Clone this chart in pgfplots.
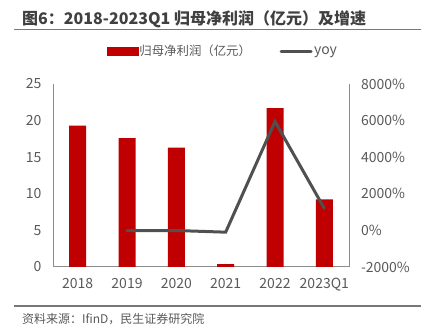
\documentclass[border=0pt]{standalone}
\usepackage{pgfplots}
\pgfplotsset{compat=1.18}
\usepackage{fontspec}
\setmainfont{Noto Sans CJK SC}
\definecolor{barred}{HTML}{C00000}
\definecolor{linegray}{HTML}{505050}
\definecolor{txtgray}{HTML}{595959}
\definecolor{axgray}{HTML}{8C8C8C}
\definecolor{titlegray}{HTML}{404040}
\begin{document}
\begin{tikzpicture}[x=1pt,y=1pt]
\useasboundingbox (0,0) rectangle (433,336);
\node[anchor=west,inner sep=0,font=\fontsize{16}{18}\selectfont\bfseries,text=titlegray] at (22,317) {图6：2018-2023Q1 归母净利润（亿元）及增速};
\draw[color=axgray!85!black,line width=1.5pt] (14,306.7) -- (421,306.7);
\draw[color=axgray!85!black,line width=1.5pt] (14,30) -- (421,30);
\node[anchor=west,inner sep=0,font=\fontsize{12}{14}\selectfont,text=txtgray] at (22,17) {资料来源：IfinD，民生证券研究院};
\begin{axis}[
  at={(53pt,69pt)}, anchor=south west,
  width=296pt, height=183pt, scale only axis,
  xmin=-0.5, xmax=5.5, ymin=0, ymax=25,
  xtick={0,1,2,3,4,5},
  xticklabels={2018,2019,2020,2021,2022,2023Q1},
  ytick={0,5,10,15,20,25},
  axis x line=bottom, axis y line=left,
  axis line style={-, color=axgray, line width=1pt},
  major tick length=0pt,
  tick label style={font=\fontsize{14}{16}\selectfont, text=txtgray},
  /pgf/number format/assume math mode=true,
  xticklabel style={yshift=-8pt},
  yticklabel style={xshift=-8pt},
]
\addplot[ybar, bar width=17pt, fill=barred, draw=none] coordinates {
 (0,19.3) (1,17.6) (2,16.3) (3,0.4) (4,21.7) (5,9.25)
};
\end{axis}
\begin{axis}[
  at={(53pt,69pt)}, anchor=south west,
  width=296pt, height=183pt, scale only axis,
  xmin=-0.5, xmax=5.5, ymin=-2000, ymax=8000,
  axis x line=none, axis y line=right,
  axis line style={-, color=axgray, line width=1pt},
  major tick length=0pt,
  ytick={-2000,0,2000,4000,6000,8000},
  yticklabels={-2000\%,0\%,2000\%,4000\%,6000\%,8000\%},
  tick label style={font=\fontsize{14}{16}\selectfont, text=txtgray},
  yticklabel style={xshift=8.5pt},
  legend style={at={(0.5727,1.179)}, anchor=center, draw=none, fill=none,
    legend columns=2, font=\fontsize{12.4}{14}\selectfont, text=txtgray,
    /tikz/every even column/.append style={column sep=27pt},
    nodes={inner sep=1.5pt},
    inner sep=0pt},
]
\addlegendimage{legend image code/.code={\fill[barred] (0pt,-3.6pt) rectangle (31pt,3.6pt);}}
\addlegendentry{归母净利润（亿元）}
\addlegendimage{legend image code/.code={\draw[linegray,line width=3pt,line cap=round] (1pt,0pt) -- (31pt,0pt);}}
\addlegendentry{\fontsize{14}{16}\selectfont yoy}
\addplot[color=linegray, line width=3pt, mark=none, line cap=round] coordinates {
 (1,-9) (2,-7) (3,-97) (4,5950) (5,1200)
};
\end{axis}
\end{tikzpicture}
\end{document}
